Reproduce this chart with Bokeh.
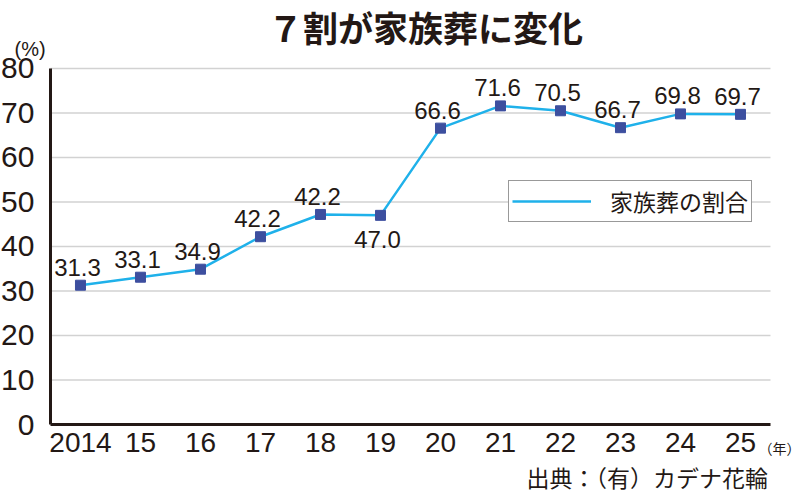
from bokeh.plotting import figure
from bokeh.models import (Range1d, FixedTicker, Label, Legend, LegendItem,
                          ColumnDataSource, LinearAxis)
from bokeh.core.properties import value
from bokeh.embed import file_html
from bokeh.resources import INLINE

# ---- data ----
years = ["2014", "15", "16", "17", "18", "19", "20", "21", "22", "23", "24", "25"]
share = [31.3, 33.1, 34.9, 42.2, 47.2, 47.0, 66.6, 71.6, 70.5, 66.7, 69.8, 69.7]
point_labels = ["31.3", "33.1", "34.9", "42.2", "42.2", "47.0",
                "66.6", "71.6", "70.5", "66.7", "69.8", "69.7"]
labels_below = ["19"]
y_ticks = [0, 10, 20, 30, 40, 50, 60, 70, 80]
title_text = "７割が家族葬に変化"
series_name = "家族葬の割合"
y_unit = "(%)"
x_unit = "（年）"
source_note = "出典：（有）カデナ花輪"

# ---- style ----
INK = "#231815"
LINE = "#1fb1ea"
MARK = "#3d4f9f"
GRID = "#d2d2d2"
NUM_FONT = "Liberation Sans"
JP_FONT = "Noto Sans CJK JP"

W, H = 800, 494
xs = list(range(len(years)))
x_lo, x_hi = xs[0] - 0.5, xs[-1] + 0.5
y_lo, y_hi = y_ticks[0], y_ticks[-1]

# the frame covers the whole canvas; axes are placed inside it
p = figure(width=W, height=H, output_backend="svg", toolbar_location=None,
           x_range=Range1d(-1.333, 12.0), y_range=Range1d(-15.73, 95.28),
           min_border=0, x_axis_location=None, y_axis_location=None)
p.outline_line_color = None
p.background_fill_color = "white"
p.border_fill_color = "white"
p.xgrid.grid_line_color = None
p.ygrid.grid_line_color = None

yax = LinearAxis(ticker=FixedTicker(ticks=y_ticks), fixed_location=x_lo,
                 bounds=(y_lo, y_hi))
xax = LinearAxis(ticker=FixedTicker(ticks=xs), fixed_location=y_lo,
                 bounds=(x_lo, x_hi),
                 major_label_overrides={i: y for i, y in enumerate(years)})
for ax in (xax, yax):
    ax.axis_line_color = INK
    ax.axis_line_width = 3
    ax.major_tick_line_color = None
    ax.minor_tick_line_color = None
    ax.major_label_text_font = NUM_FONT
    ax.major_label_text_color = INK
yax.major_label_text_font_size = "30px"
xax.major_label_text_font_size = "28px"
yax.major_label_standoff = 10
xax.major_label_standoff = 2

# horizontal grid lines at the tick values, spanning the plotting area
p.segment(x0=[x_lo] * (len(y_ticks) - 1), x1=[x_hi] * (len(y_ticks) - 1),
          y0=y_ticks[1:], y1=y_ticks[1:], line_color=GRID, line_width=1.5)

p.add_layout(yax, "left")
p.add_layout(xax, "below")

src = ColumnDataSource(dict(x=xs, share=share, label=point_labels))
line_r = p.line(x="x", y="share", source=src, line_color=LINE, line_width=2.5)
p.scatter(x="x", y="share", source=src, marker="square", size=10,
          fill_color=MARK, line_color=MARK)

above = [i for i, y in enumerate(years) if y not in labels_below]
below = [i for i, y in enumerate(years) if y in labels_below]
for idx, off in ((above, -18), (below, 24)):
    s = ColumnDataSource(dict(x=[xs[i] for i in idx],
                              share=[share[i] for i in idx],
                              label=[point_labels[i] for i in idx]))
    p.text(x="x", y="share", text="label", source=s,
           text_font=value(NUM_FONT), text_font_size="24px", text_color=INK,
           text_align="center", text_baseline="middle", x_offset=-3, y_offset=off)

legend = Legend(items=[LegendItem(label=series_name, renderers=[line_r])],
                location=(508, 272), orientation="vertical")
legend.border_line_color = "#333333"
legend.border_line_width = 1.5
legend.background_fill_color = "white"
legend.background_fill_alpha = 1
legend.padding = 3
legend.spacing = 0
legend.margin = 0
legend.glyph_width = 79
legend.glyph_height = 20
legend.label_height = 20
legend.label_standoff = 19
legend.label_text_font = "Liberation Sans, Noto Sans CJK JP"
legend.label_text_font_size = "23px"
legend.label_text_color = INK
p.add_layout(legend)

# texts around the chart (screen units from the canvas bottom-left)
p.add_layout(Label(x=425, y=H - 26, x_units="screen", y_units="screen",
                   text=title_text, text_font=JP_FONT, text_font_size="35px",
                   text_font_style="bold", text_color=INK,
                   text_align="center", text_baseline="middle"))
p.add_layout(Label(x=14, y=H - 48, x_units="screen", y_units="screen",
                   text=y_unit, text_font=NUM_FONT, text_font_size="20px",
                   text_color=INK, text_align="left", text_baseline="middle"))
p.add_layout(Label(x=758, y=H - 447, x_units="screen", y_units="screen",
                   text=x_unit, text_font=JP_FONT, text_font_size="14px",
                   text_color=INK, text_align="left", text_baseline="middle"))
p.add_layout(Label(x=526, y=H - 476, x_units="screen", y_units="screen",
                   text=source_note, text_font=JP_FONT, text_font_size="23px",
                   text_color=INK, text_align="left", text_baseline="middle"))

open("out.html", "w").write(file_html(p, INLINE))
